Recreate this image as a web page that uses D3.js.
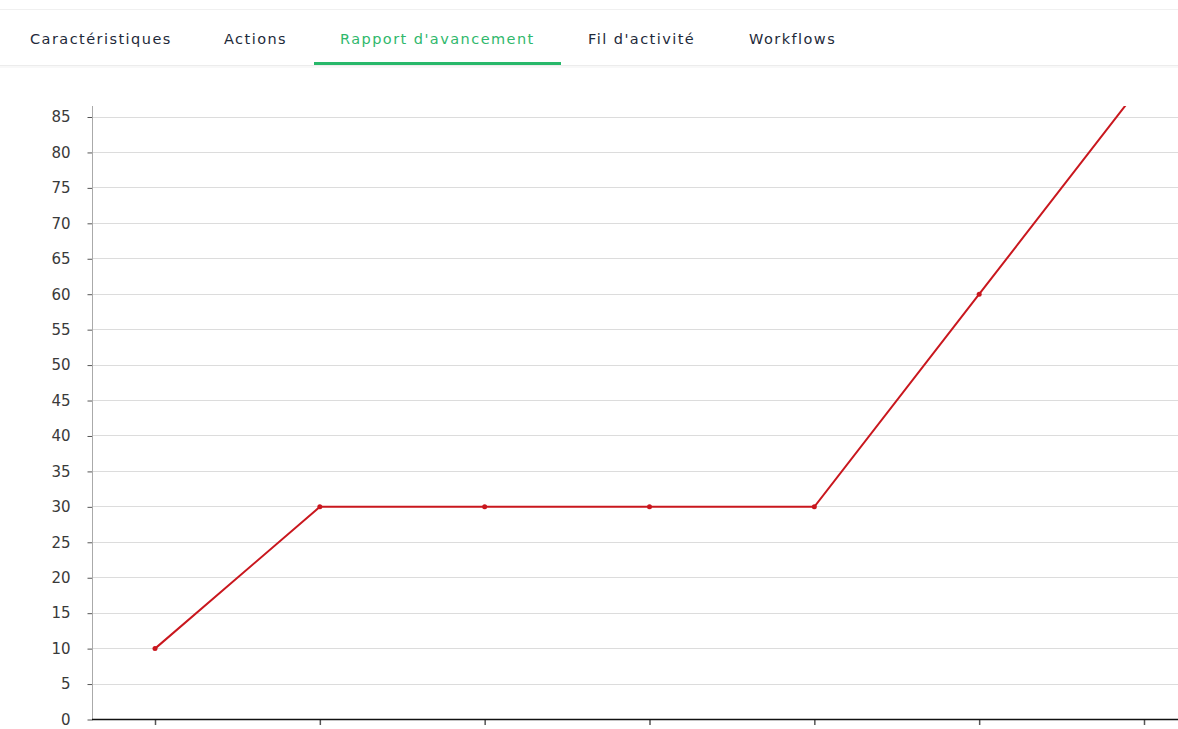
<!DOCTYPE html>
<html><head><meta charset="utf-8">
<script src="https://cdn.jsdelivr.net/npm/d3@7/dist/d3.min.js"></script>
<style>
html,body{margin:0;padding:0;background:#fff;overflow:hidden;}
svg{display:block;}
</style></head>
<body>
<svg id="c" width="1178" height="729"></svg>
<script>
const tabs = ["Caractéristiques","Actions","Rapport d'avancement","Fil d'activité","Workflows"];
const tabX = [30,224,340,588,749];
const activeTab = 2;
const categories = ["1","2","3","4","5","6","7"];
const values = [10,30,30,30,30,60,90];
const yTicks = d3.range(0,90,5);

(function(){
const svg = d3.select("#c");
const W = 1178, H = 729;

svg.append("rect").attr("x",0).attr("y",9).attr("width",W).attr("height",56).attr("fill","#fff");
svg.append("line").attr("x1",0).attr("x2",W).attr("y1",9.5).attr("y2",9.5).attr("stroke","#f0f0f0");
svg.append("rect").attr("x",0).attr("y",65).attr("width",W).attr("height",1).attr("fill","#ececec");
svg.append("rect").attr("x",0).attr("y",66).attr("width",W).attr("height",2).attr("fill","#f8f8f8");
svg.selectAll("text.tab").data(tabs).join("text")
  .attr("class","tab")
  .attr("x",(d,i)=>tabX[i]).attr("y",44)
  .attr("font-family","'DejaVu Sans', Verdana, sans-serif")
  .attr("font-size",14.5)
  .attr("letter-spacing",1.45)
  .attr("fill",(d,i)=> i===activeTab ? "#2fb86c" : "#1e2a3a")
  .text(d=>d);
svg.append("rect").attr("x",314).attr("y",62).attr("width",247).attr("height",3).attr("fill","#27b86a");

const pTop = 106, pBottom = 719, pLeft = 92;
const y = d3.scaleLinear().domain([0,85]).range([719.5,117]);
const x = d3.scaleLinear().domain([0,categories.length-1]).range([155,1144]);

const g = svg.append("g");
g.selectAll("line.grid").data(yTicks.filter(d=>d>0)).join("line")
  .attr("x1",pLeft).attr("x2",W).attr("y1",d=>Math.floor(y(d))+0.5).attr("y2",d=>Math.floor(y(d))+0.5)
  .attr("stroke","#dcdcdc").attr("stroke-width",1);

const ya = g.append("g").attr("transform",`translate(${pLeft+0.5},0)`)
  .call(d3.axisLeft(y).tickValues(yTicks).tickSize(5).tickPadding(17).tickFormat(d3.format("d")));
ya.select(".domain").remove();
ya.selectAll(".tick line").attr("stroke","#555");
ya.selectAll(".tick text").attr("font-family","'DejaVu Sans', Verdana, sans-serif").attr("font-size",15).attr("fill","#3a3a3a");
g.append("line").attr("x1",pLeft+0.5).attr("x2",pLeft+0.5).attr("y1",pTop).attr("y2",pBottom).attr("stroke","#aaa");

const xa = g.append("g").attr("transform",`translate(0,${pBottom})`)
  .call(d3.axisBottom(x).tickValues(d3.range(categories.length)).tickSize(6).tickFormat(()=> ""));
xa.select(".domain").remove();
xa.selectAll(".tick line").attr("stroke","#555").attr("stroke-width",1.5);
g.append("line").attr("x1",pLeft).attr("x2",W).attr("y1",pBottom+0.5).attr("y2",pBottom+0.5).attr("stroke","#111").attr("stroke-width",1.6);

svg.append("clipPath").attr("id","clip").append("rect").attr("x",pLeft).attr("y",pTop).attr("width",W-pLeft).attr("height",pBottom-pTop);
const plot = svg.append("g").attr("clip-path","url(#clip)");
plot.append("path").datum(values)
  .attr("d", d3.line().x((d,i)=>x(i)).y(d=>y(d)))
  .attr("fill","none").attr("stroke","#c9171e").attr("stroke-width",2);
plot.selectAll("circle").data(values).join("circle")
  .attr("cx",(d,i)=>x(i)).attr("cy",d=>y(d)).attr("r",2.5).attr("fill","#c9171e");
})();
</script>
</body></html>
